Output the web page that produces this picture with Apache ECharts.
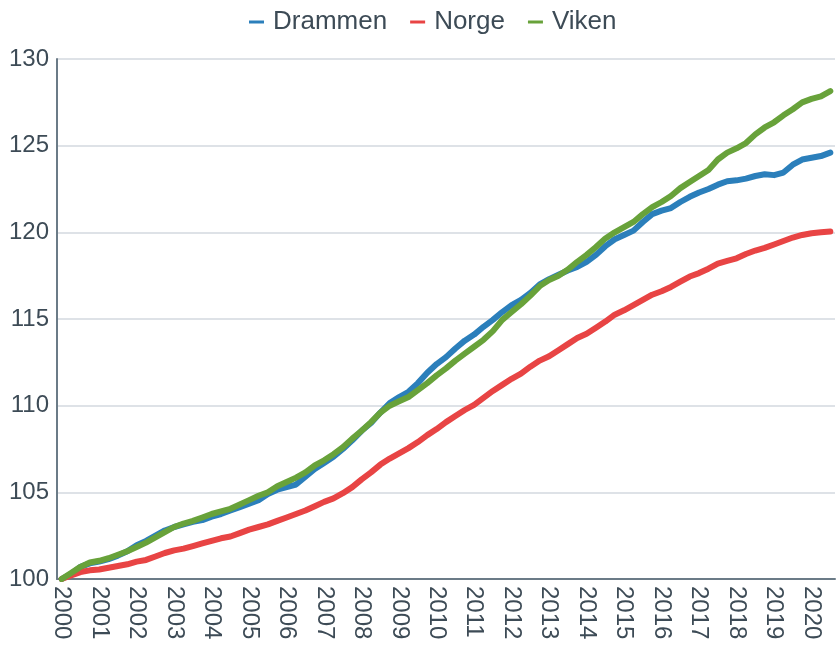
<!DOCTYPE html>
<html>
<head>
<meta charset="utf-8">
<script src="https://cdn.jsdelivr.net/npm/echarts@6/dist/echarts.min.js"></script>
<style>
    html, body { margin: 0; padding: 0; background: #fff; }
    #chart { width: 839px; height: 645px; }
</style>
</head>
<body>
<div id="chart"></div>
<script>
// kvartal 2000K1 - 2020K3
var years = [];
for (var y = 2000; y <= 2020; y++) {
    for (var q = 1; q <= 4; q++) {
        if (y === 2020 && q === 4) break;
        years.push(y + "K" + q);
    }
}

var drammen = [
    100.0, 100.3, 100.7, 100.9, 101.0, 101.15, 101.35, 101.6, 101.95, 102.2,
    102.5, 102.8, 103.0, 103.15, 103.3, 103.4, 103.6, 103.75, 103.95, 104.15,
    104.35, 104.55, 104.9, 105.15, 105.3, 105.45, 105.9, 106.35, 106.7, 107.05,
    107.5, 108.0, 108.55, 109.0, 109.6, 110.15, 110.5, 110.8, 111.3, 111.9,
    112.4, 112.8, 113.3, 113.75, 114.1, 114.55, 114.95, 115.4, 115.8, 116.1,
    116.5, 117.0, 117.3, 117.55, 117.8, 118.0, 118.3, 118.7, 119.2, 119.6,
    119.85, 120.1, 120.6, 121.05, 121.25, 121.4, 121.75, 122.05, 122.3, 122.5,
    122.75, 122.95, 123.0, 123.1, 123.25, 123.35, 123.3, 123.45, 123.9, 124.2,
    124.3, 124.4, 124.6
];

var norge = [
    100.0, 100.2, 100.4, 100.5, 100.55, 100.65, 100.75, 100.85, 101.0, 101.1,
    101.3, 101.5, 101.65, 101.75, 101.9, 102.05, 102.2, 102.35, 102.45, 102.65,
    102.85, 103.0, 103.15, 103.35, 103.55, 103.75, 103.95, 104.2, 104.45, 104.65,
    104.95, 105.3, 105.75, 106.15, 106.6, 106.95, 107.25, 107.55, 107.9, 108.3,
    108.65, 109.05, 109.4, 109.75, 110.05, 110.45, 110.85, 111.2, 111.55, 111.85,
    112.25, 112.6, 112.85, 113.2, 113.55, 113.9, 114.15, 114.5, 114.85, 115.25,
    115.5, 115.8, 116.1, 116.4, 116.6, 116.85, 117.15, 117.45, 117.65, 117.9,
    118.2, 118.35, 118.5, 118.75, 118.95, 119.1, 119.3, 119.5, 119.7, 119.85,
    119.95, 120.0, 120.05
];

var viken = [
    100.0, 100.35, 100.7, 100.95, 101.05, 101.2, 101.4, 101.6, 101.85, 102.1,
    102.4, 102.7, 103.0, 103.2, 103.35, 103.55, 103.75, 103.9, 104.05, 104.3,
    104.55, 104.8, 105.0, 105.35, 105.6, 105.85, 106.15, 106.55, 106.85, 107.2,
    107.6, 108.1, 108.55, 109.05, 109.6, 110.0, 110.25, 110.5, 110.9, 111.3,
    111.75, 112.15, 112.6, 113.0, 113.4, 113.8, 114.3, 114.95, 115.4, 115.85,
    116.35, 116.9, 117.25, 117.5, 117.85, 118.3, 118.7, 119.15, 119.65, 120.0,
    120.3, 120.6, 121.05, 121.45, 121.75, 122.1, 122.55, 122.9, 123.25, 123.6,
    124.2, 124.6, 124.85, 125.15, 125.65, 126.05, 126.35, 126.75, 127.1, 127.5,
    127.7, 127.85, 128.15
];

var seriesNames = ["Drammen", "Norge", "Viken"];
var colors = ["#2b7fbb", "#e84444", "#68a23a"];
var textColor = "#3d4b56";
var fontFamily = "Liberation Sans, Arial, sans-serif";

function lineSeries(name, data, color) {
    return {
        name: name,
        type: "line",
        data: data,
        symbol: "none",
        smooth: false,
        lineStyle: { color: color, width: 6, cap: "round", join: "round" },
        itemStyle: { color: color }
    };
}

var chart = echarts.init(document.getElementById("chart"));
var option = {
    animation: false,
    color: colors,
    legend: {
        top: 4,
        left: 244,
        data: seriesNames,
        icon: "rect",
        itemWidth: 15,
        itemHeight: 3,
        itemGap: 23,
        textStyle: { color: textColor, fontSize: 26, fontFamily: fontFamily, padding: [0, 0, 0, 4] }
    },
    grid: { left: 57, right: 4, top: 59, bottom: 66, containLabel: false },
    xAxis: {
        type: "category",
        data: years,
        boundaryGap: true,
        axisLine: { lineStyle: { color: "#6b7b87", width: 2 } },
        axisTick: { show: false },
        axisLabel: {
            interval: 3,
            rotate: -90,
            margin: 7,
            color: textColor,
            fontSize: 24,
            fontFamily: fontFamily,
            formatter: function (v) { return v.slice(0, 4); }
        },
        splitLine: { show: false }
    },
    yAxis: {
        type: "value",
        min: 100,
        max: 130,
        interval: 5,
        axisLine: { show: true, lineStyle: { color: "#6b7b87", width: 2 } },
        axisTick: { show: false },
        axisLabel: { color: textColor, fontSize: 24, fontFamily: fontFamily, margin: 8 },
        splitLine: { lineStyle: { color: "#d3d9df", width: 1.5 } }
    },
    series: [
        lineSeries(seriesNames[0], drammen, colors[0]),
        lineSeries(seriesNames[1], norge, colors[1]),
        lineSeries(seriesNames[2], viken, colors[2])
    ]
};
chart.setOption(option);
</script>
</body>
</html>
